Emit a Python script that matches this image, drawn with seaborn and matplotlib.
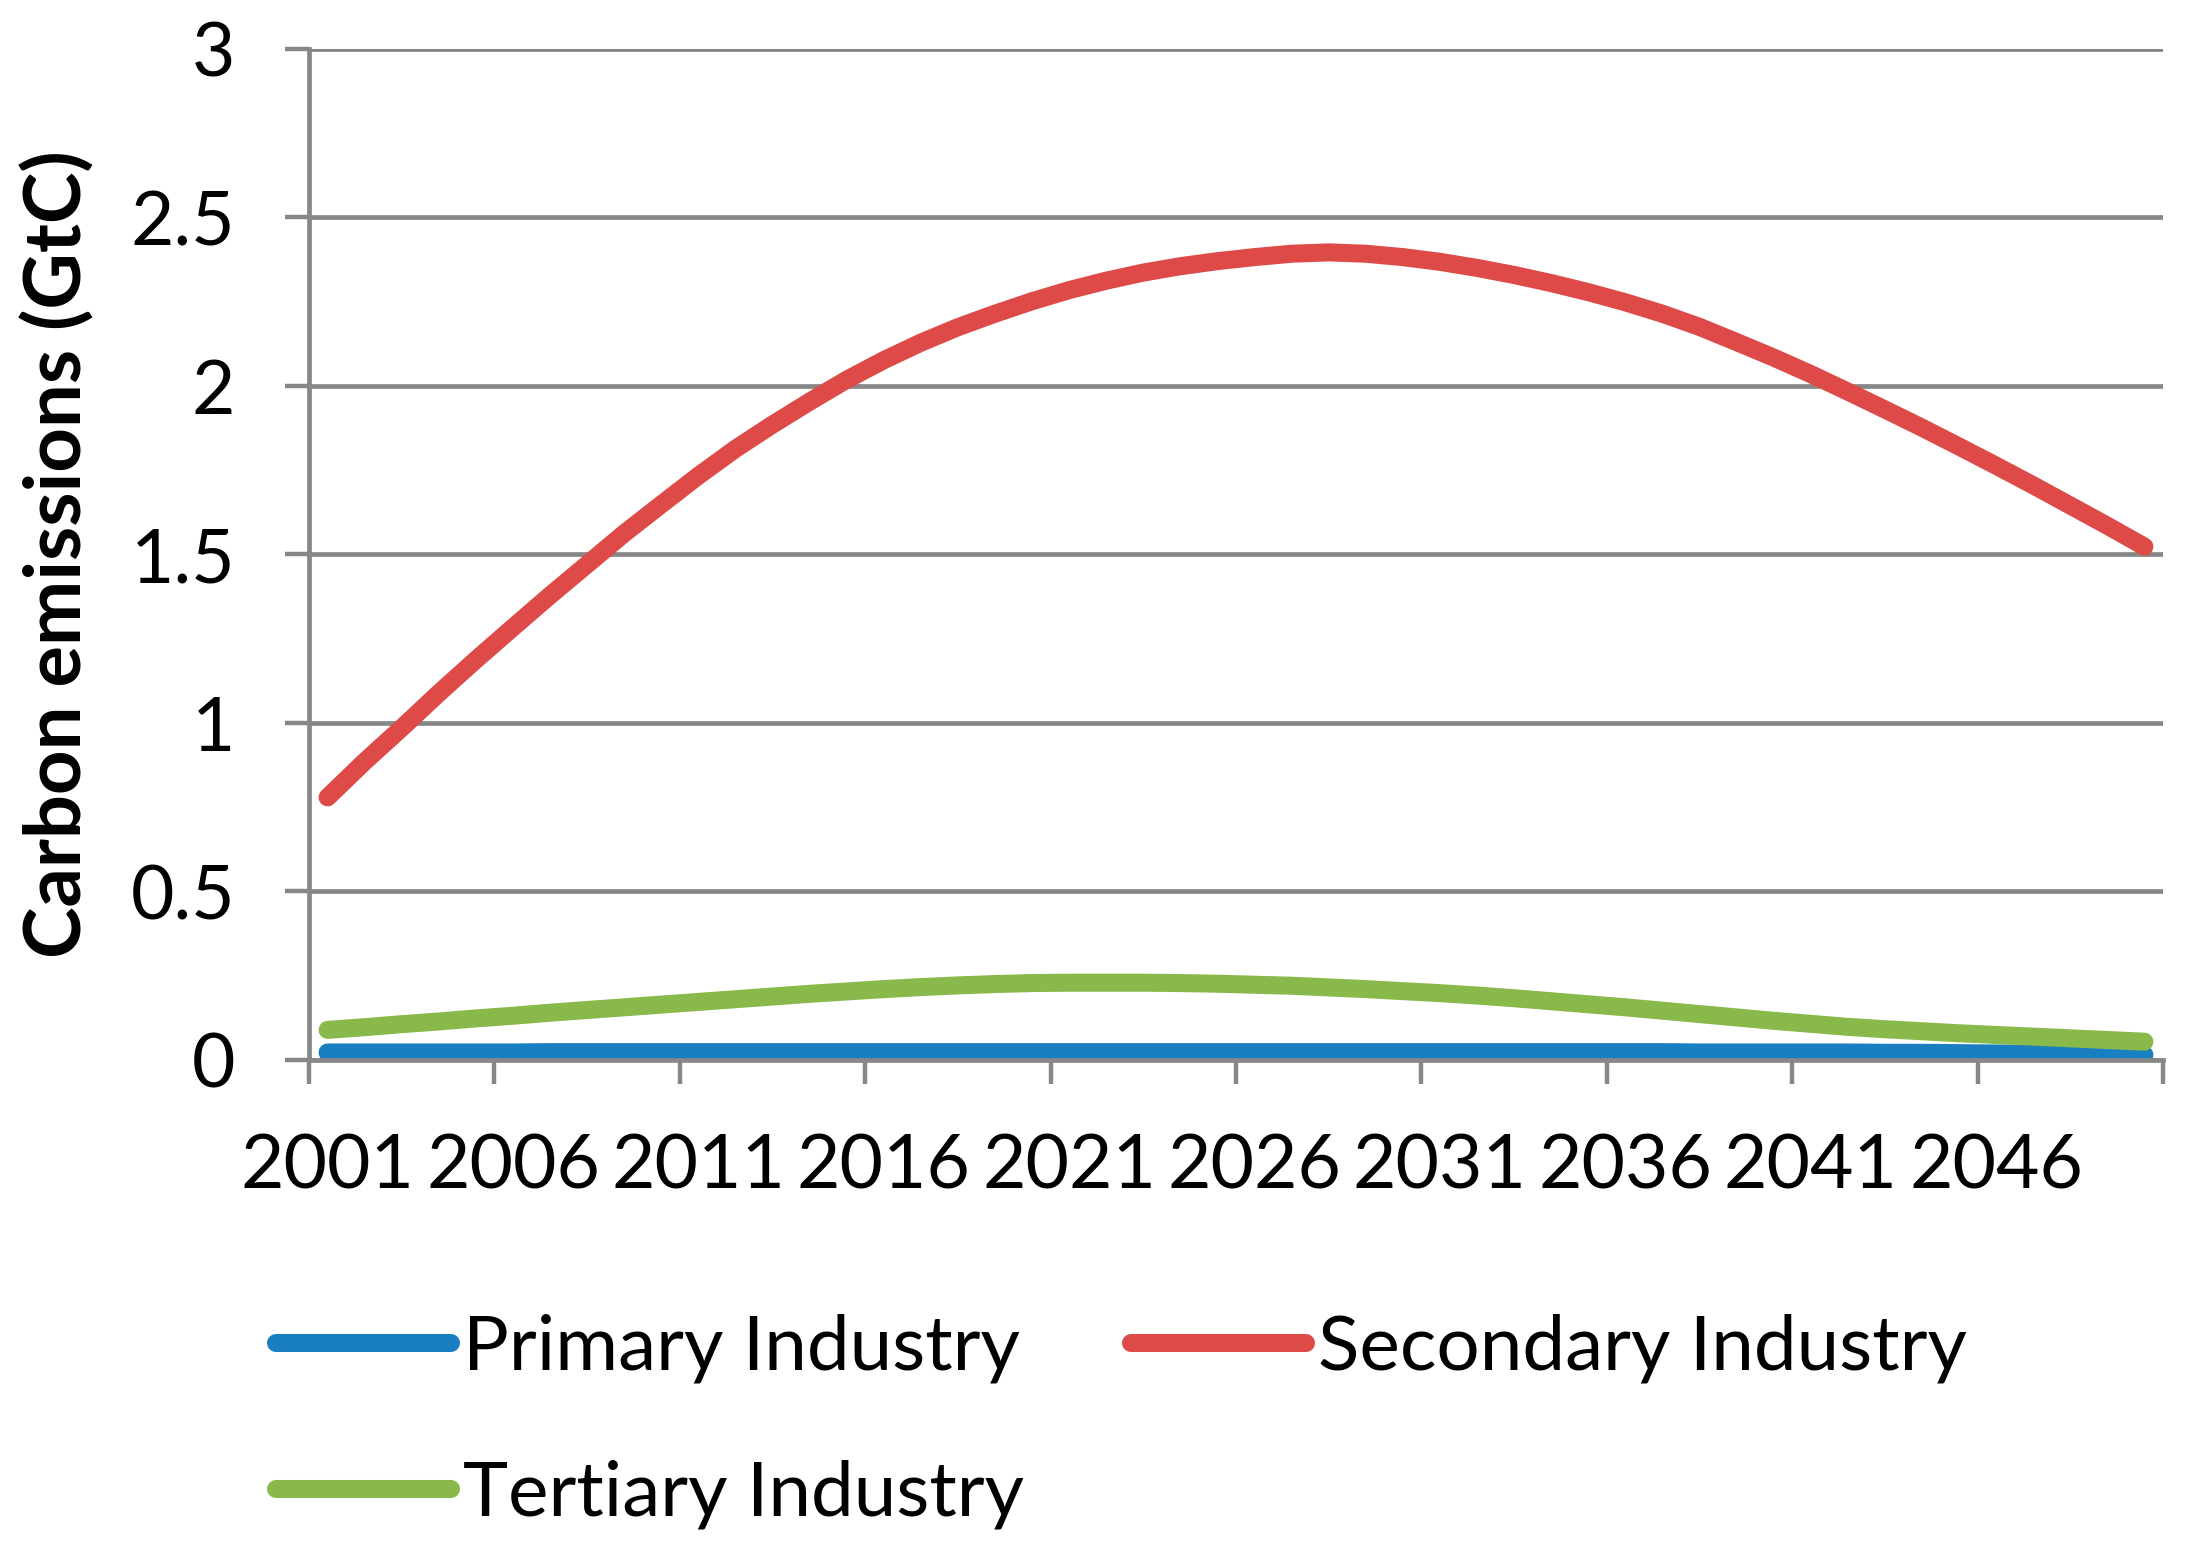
import numpy as np
import pandas as pd
import matplotlib
matplotlib.use("Agg")
import matplotlib.pyplot as plt
import seaborn as sns

years = list(range(2001, 2051))

primary = [0.022, 0.022, 0.022, 0.022, 0.022, 0.022, 0.023, 0.023, 0.023, 0.023,
           0.023, 0.023, 0.023, 0.023, 0.023, 0.023, 0.023, 0.023, 0.023, 0.023,
           0.023, 0.023, 0.023, 0.023, 0.023, 0.023, 0.023, 0.023, 0.023, 0.023,
           0.023, 0.023, 0.023, 0.023, 0.023, 0.023, 0.023, 0.022, 0.022, 0.022,
           0.022, 0.022, 0.021, 0.021, 0.020, 0.019, 0.018, 0.017, 0.016, 0.015]

secondary = [0.779, 0.885, 0.985, 1.088, 1.187, 1.283, 1.378, 1.470, 1.562, 1.648,
             1.733, 1.813, 1.885, 1.953, 2.018, 2.076, 2.128, 2.174, 2.214, 2.251,
             2.284, 2.312, 2.336, 2.355, 2.370, 2.382, 2.392, 2.396, 2.392, 2.382,
             2.368, 2.350, 2.329, 2.305, 2.278, 2.248, 2.214, 2.175, 2.130, 2.084,
             2.035, 1.983, 1.930, 1.876, 1.820, 1.763, 1.705, 1.645, 1.585, 1.523]

tertiary = [0.089, 0.097, 0.106, 0.114, 0.123, 0.131, 0.140, 0.148, 0.156, 0.164,
            0.172, 0.180, 0.188, 0.196, 0.203, 0.210, 0.216, 0.221, 0.225, 0.228,
            0.229, 0.229, 0.229, 0.228, 0.226, 0.223, 0.220, 0.215, 0.210, 0.204,
            0.198, 0.191, 0.183, 0.174, 0.165, 0.156, 0.146, 0.136, 0.126, 0.116,
            0.107, 0.098, 0.091, 0.085, 0.079, 0.074, 0.069, 0.064, 0.059, 0.054]

series_names = ["Primary Industry", "Secondary Industry", "Tertiary Industry"]
colors = ["#1a7fc0", "#dd4a48", "#8ab94b"]

df = pd.DataFrame({
    "idx": list(range(len(years))) * 3,
    "value": primary + secondary + tertiary,
    "series": [s for s in series_names for _ in years],
})

sns.set_theme(style="white")
plt.rcParams['font.family'] = ['Lato', 'DejaVu Sans']
plt.rcParams['text.color'] = 'black'
plt.rcParams['axes.labelcolor'] = 'black'

fig = plt.figure(figsize=(22.01, 15.5), dpi=100)
ax = fig.add_axes([0.1404, 0.3162, 0.9827 - 0.1404, 0.9685 - 0.3162])

sns.lineplot(data=df, x="idx", y="value", hue="series", palette=colors,
             linewidth=13, ax=ax, legend=False, solid_capstyle="round",
             solid_joinstyle="round")

gray = "#878787"
ax.set_ylim(0, 3)
ax.set_xlim(-0.5, len(years) - 0.5)
ax.set_yticks(np.arange(0, 3.01, 0.5))
ax.set_yticklabels(["0", "0.5", "1", "1.5", "2", "2.5", "3"])
ax.set_xticks(range(0, len(years), 5))
ax.set_xticklabels([str(y) for y in years[::5]])
ax.set_xticks(np.arange(-0.5, len(years), 5), minor=True)
ax.tick_params(axis="x", which="major", bottom=True, length=0, pad=52,
               labelsize=54, labelcolor="black")
ax.tick_params(axis="x", which="minor", bottom=True, length=17, width=3.2, color=gray)
ax.tick_params(axis="y", left=True, length=17, width=3.2, color=gray, pad=36,
               labelsize=54, labelcolor="black")
ax.grid(axis="y", color=gray, linewidth=3.4)
ax.set_axisbelow(True)
for s in ["top", "right"]:
    ax.spines[s].set_visible(False)
for s in ["left", "bottom"]:
    ax.spines[s].set_color(gray)
    ax.spines[s].set_linewidth(3.4)
ax.set_xlabel("")
ax.set_ylabel("Carbon emissions (GtC)", fontsize=56, fontweight="bold")
ax.yaxis.set_label_coords(-0.115, 0.5)

handles = [plt.Line2D([], [], color=c, linewidth=13, solid_capstyle="round") for c in colors]
order = [0, 2, 1]
fig.legend([handles[i] for i in order], [series_names[i] for i in order],
           loc="lower left", bbox_to_anchor=(0.094, -0.031),
           ncol=2, frameon=False, fontsize=55, handlelength=2.3, handletextpad=0.15,
           columnspacing=1.4, labelspacing=1.0)

fig.savefig("out.png", dpi=100)
